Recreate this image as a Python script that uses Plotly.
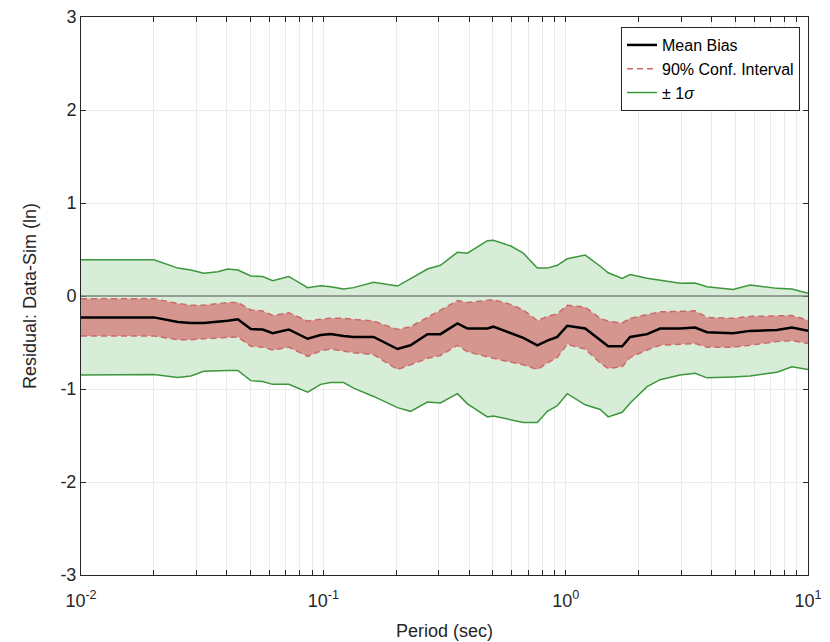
import plotly.graph_objects as go

period = [0.0100, 0.0200, 0.0251, 0.0284, 0.0321, 0.0367, 0.0403, 0.0444, 0.0502, 0.0562,
          0.0618, 0.0720, 0.0862, 0.0975, 0.1072, 0.1212, 0.1333, 0.1612, 0.2024, 0.2289,
          0.2690, 0.3043, 0.3576, 0.3932, 0.4753, 0.5031, 0.5911, 0.6690, 0.7638, 0.8400,
          0.9235, 1.015, 1.204, 1.389, 1.498, 1.711, 1.846, 2.169, 2.453, 2.967,
          3.420, 3.831, 4.905, 5.762, 7.446, 8.585, 10.0]

sigma_hi = [0.39, 0.39, 0.30, 0.28, 0.245, 0.26, 0.29, 0.28, 0.215, 0.21,
            0.165, 0.21, 0.09, 0.11, 0.10, 0.075, 0.09, 0.147, 0.107, 0.19,
            0.29, 0.33, 0.47, 0.46, 0.595, 0.60, 0.54, 0.46, 0.30, 0.30,
            0.33, 0.40, 0.44, 0.32, 0.25, 0.19, 0.23, 0.19, 0.17, 0.136,
            0.14, 0.10, 0.07, 0.118, 0.082, 0.075, 0.03]

mean_bias = [-0.23, -0.23, -0.28, -0.29, -0.29, -0.28, -0.265, -0.25, -0.355, -0.36,
             -0.40, -0.36, -0.46, -0.42, -0.41, -0.43, -0.44, -0.44, -0.57, -0.53,
             -0.41, -0.41, -0.295, -0.35, -0.35, -0.33, -0.40, -0.45, -0.53, -0.48,
             -0.44, -0.32, -0.35, -0.48, -0.54, -0.54, -0.44, -0.41, -0.35, -0.35,
             -0.34, -0.39, -0.40, -0.375, -0.365, -0.34, -0.375]

conf_hi = [-0.03, -0.03, -0.08, -0.10, -0.10, -0.08, -0.07, -0.07, -0.15, -0.16,
           -0.21, -0.18, -0.27, -0.25, -0.24, -0.24, -0.25, -0.27, -0.36, -0.33,
           -0.23, -0.15, -0.05, -0.07, -0.05, -0.04, -0.09, -0.15, -0.265, -0.22,
           -0.19, -0.10, -0.12, -0.24, -0.27, -0.29, -0.24, -0.20, -0.17, -0.165,
           -0.16, -0.23, -0.24, -0.22, -0.215, -0.21, -0.26]

conf_lo = [-0.43, -0.43, -0.47, -0.47, -0.46, -0.45, -0.44, -0.44, -0.54, -0.55,
           -0.58, -0.55, -0.65, -0.59, -0.57, -0.59, -0.61, -0.63, -0.79, -0.74,
           -0.67, -0.64, -0.53, -0.60, -0.66, -0.67, -0.71, -0.74, -0.79, -0.72,
           -0.66, -0.52, -0.57, -0.72, -0.78, -0.76, -0.66, -0.58, -0.53, -0.52,
           -0.51, -0.55, -0.55, -0.53, -0.49, -0.48, -0.51]

sigma_lo = [-0.85, -0.845, -0.875, -0.86, -0.81, -0.80, -0.80, -0.80, -0.91, -0.92,
            -0.95, -0.95, -1.035, -0.95, -0.93, -0.93, -0.99, -1.08, -1.20, -1.24,
            -1.14, -1.15, -1.05, -1.16, -1.30, -1.29, -1.33, -1.36, -1.36, -1.24,
            -1.18, -1.05, -1.17, -1.22, -1.30, -1.25, -1.15, -0.975, -0.90, -0.85,
            -0.83, -0.88, -0.87, -0.86, -0.82, -0.76, -0.79]

x_major = [0.01, 0.1, 1, 10]
x_major_text = ["10<sup>-2</sup>", "10<sup>-1</sup>", "10<sup>0</sup>", "10<sup>1</sup>"]
y_ticks = [-3, -2, -1, 0, 1, 2, 3]
y_tick_text = ["-3", "-2", "-1", "0", "1", "2", "3"]

GREEN = "rgb(60,150,60)"
GREEN_FILL = "rgb(215,237,215)"
RED_LINE = "rgb(205,105,105)"
RED_FILL = "rgb(212,150,143)"

# full log grid (1..9 per decade), labels only at decades
grid_vals = []
grid_text = []
for d in [0.01, 0.1, 1]:
    for m in range(1, 10):
        v = round(d * m, 6)
        grid_vals.append(v)
        grid_text.append(x_major_text[x_major.index(d)] if m == 1 else "")
grid_vals.append(10)
grid_text.append(x_major_text[-1])

fig = go.Figure()
fig.add_trace(go.Scatter(x=period, y=sigma_lo, mode="lines", line=dict(color=GREEN, width=1.5),
                         showlegend=False, hoverinfo="skip"))
fig.add_trace(go.Scatter(x=period, y=sigma_hi, mode="lines", line=dict(color=GREEN, width=1.5),
                         fill="tonexty", fillcolor=GREEN_FILL, showlegend=False))
fig.add_trace(go.Scatter(x=period, y=conf_lo, mode="lines",
                         line=dict(color=RED_LINE, width=1.5, dash="6px,4px"),
                         showlegend=False, hoverinfo="skip"))
fig.add_trace(go.Scatter(x=period, y=conf_hi, mode="lines",
                         line=dict(color=RED_LINE, width=1.5, dash="6px,4px"),
                         fill="tonexty", fillcolor=RED_FILL, showlegend=False))
fig.add_trace(go.Scatter(x=period, y=mean_bias, mode="lines", line=dict(color="black", width=2.5),
                         showlegend=False))

# legend-only entries (line swatches)
fig.add_trace(go.Scatter(x=[None], y=[None], mode="lines", line=dict(color="black", width=2.5),
                         name="Mean Bias"))
fig.add_trace(go.Scatter(x=[None], y=[None], mode="lines",
                         line=dict(color=RED_LINE, width=1.5, dash="6px,4px"),
                         name="90% Conf. Interval"))
fig.add_trace(go.Scatter(x=[None], y=[None], mode="lines", line=dict(color=GREEN, width=1.5),
                         name="± 1<i>σ</i>"))

fig.add_shape(type="line", xref="paper", x0=0, x1=1, yref="y", y0=0, y1=0,
              line=dict(color="rgb(128,128,128)", width=1.5), layer="above")

FONT = "Liberation Sans, Arial, Helvetica, sans-serif"
fig.update_layout(
    width=830, height=642,
    margin=dict(l=81, r=22, t=17, b=67),
    paper_bgcolor="white", plot_bgcolor="white",
    font=dict(family=FONT, size=18, color="rgb(38,38,38)"),
    showlegend=True,
    legend=dict(x=0.989, y=0.982, xanchor="right", yanchor="top", traceorder="normal",
                bgcolor="white", bordercolor="rgb(38,38,38)", borderwidth=1,
                font=dict(size=16, color="black"), tracegroupgap=0),
)
fig.update_xaxes(type="log", range=[-2, 1], tickmode="array", tickvals=grid_vals, ticktext=grid_text,
                 showgrid=True, gridcolor="rgb(235,235,235)", gridwidth=1, automargin=False,
                 showline=True, linecolor="rgb(38,38,38)", linewidth=1, mirror="ticks",
                 ticks="inside", ticklen=5, tickcolor="rgb(38,38,38)",
                 tickfont=dict(size=18), zeroline=False, ticklabelstandoff=9,
                 title=dict(text="Period (sec)", font=dict(size=18), standoff=14))
fig.update_yaxes(range=[-3, 3], tickmode="array", tickvals=y_ticks, ticktext=y_tick_text,
                 showgrid=True, gridcolor="rgb(235,235,235)", gridwidth=1, automargin=False,
                 showline=True, linecolor="rgb(38,38,38)", linewidth=1, mirror="ticks",
                 ticks="inside", ticklen=5, tickcolor="rgb(38,38,38)",
                 tickfont=dict(size=18), zeroline=False,
                 title=dict(text="Residual: Data-Sim (ln)", font=dict(size=18), standoff=19))

fig.write_html("out.html", config={"displayModeBar": False},
               post_script="document.body.style.margin='0';document.body.style.overflow='hidden';")
